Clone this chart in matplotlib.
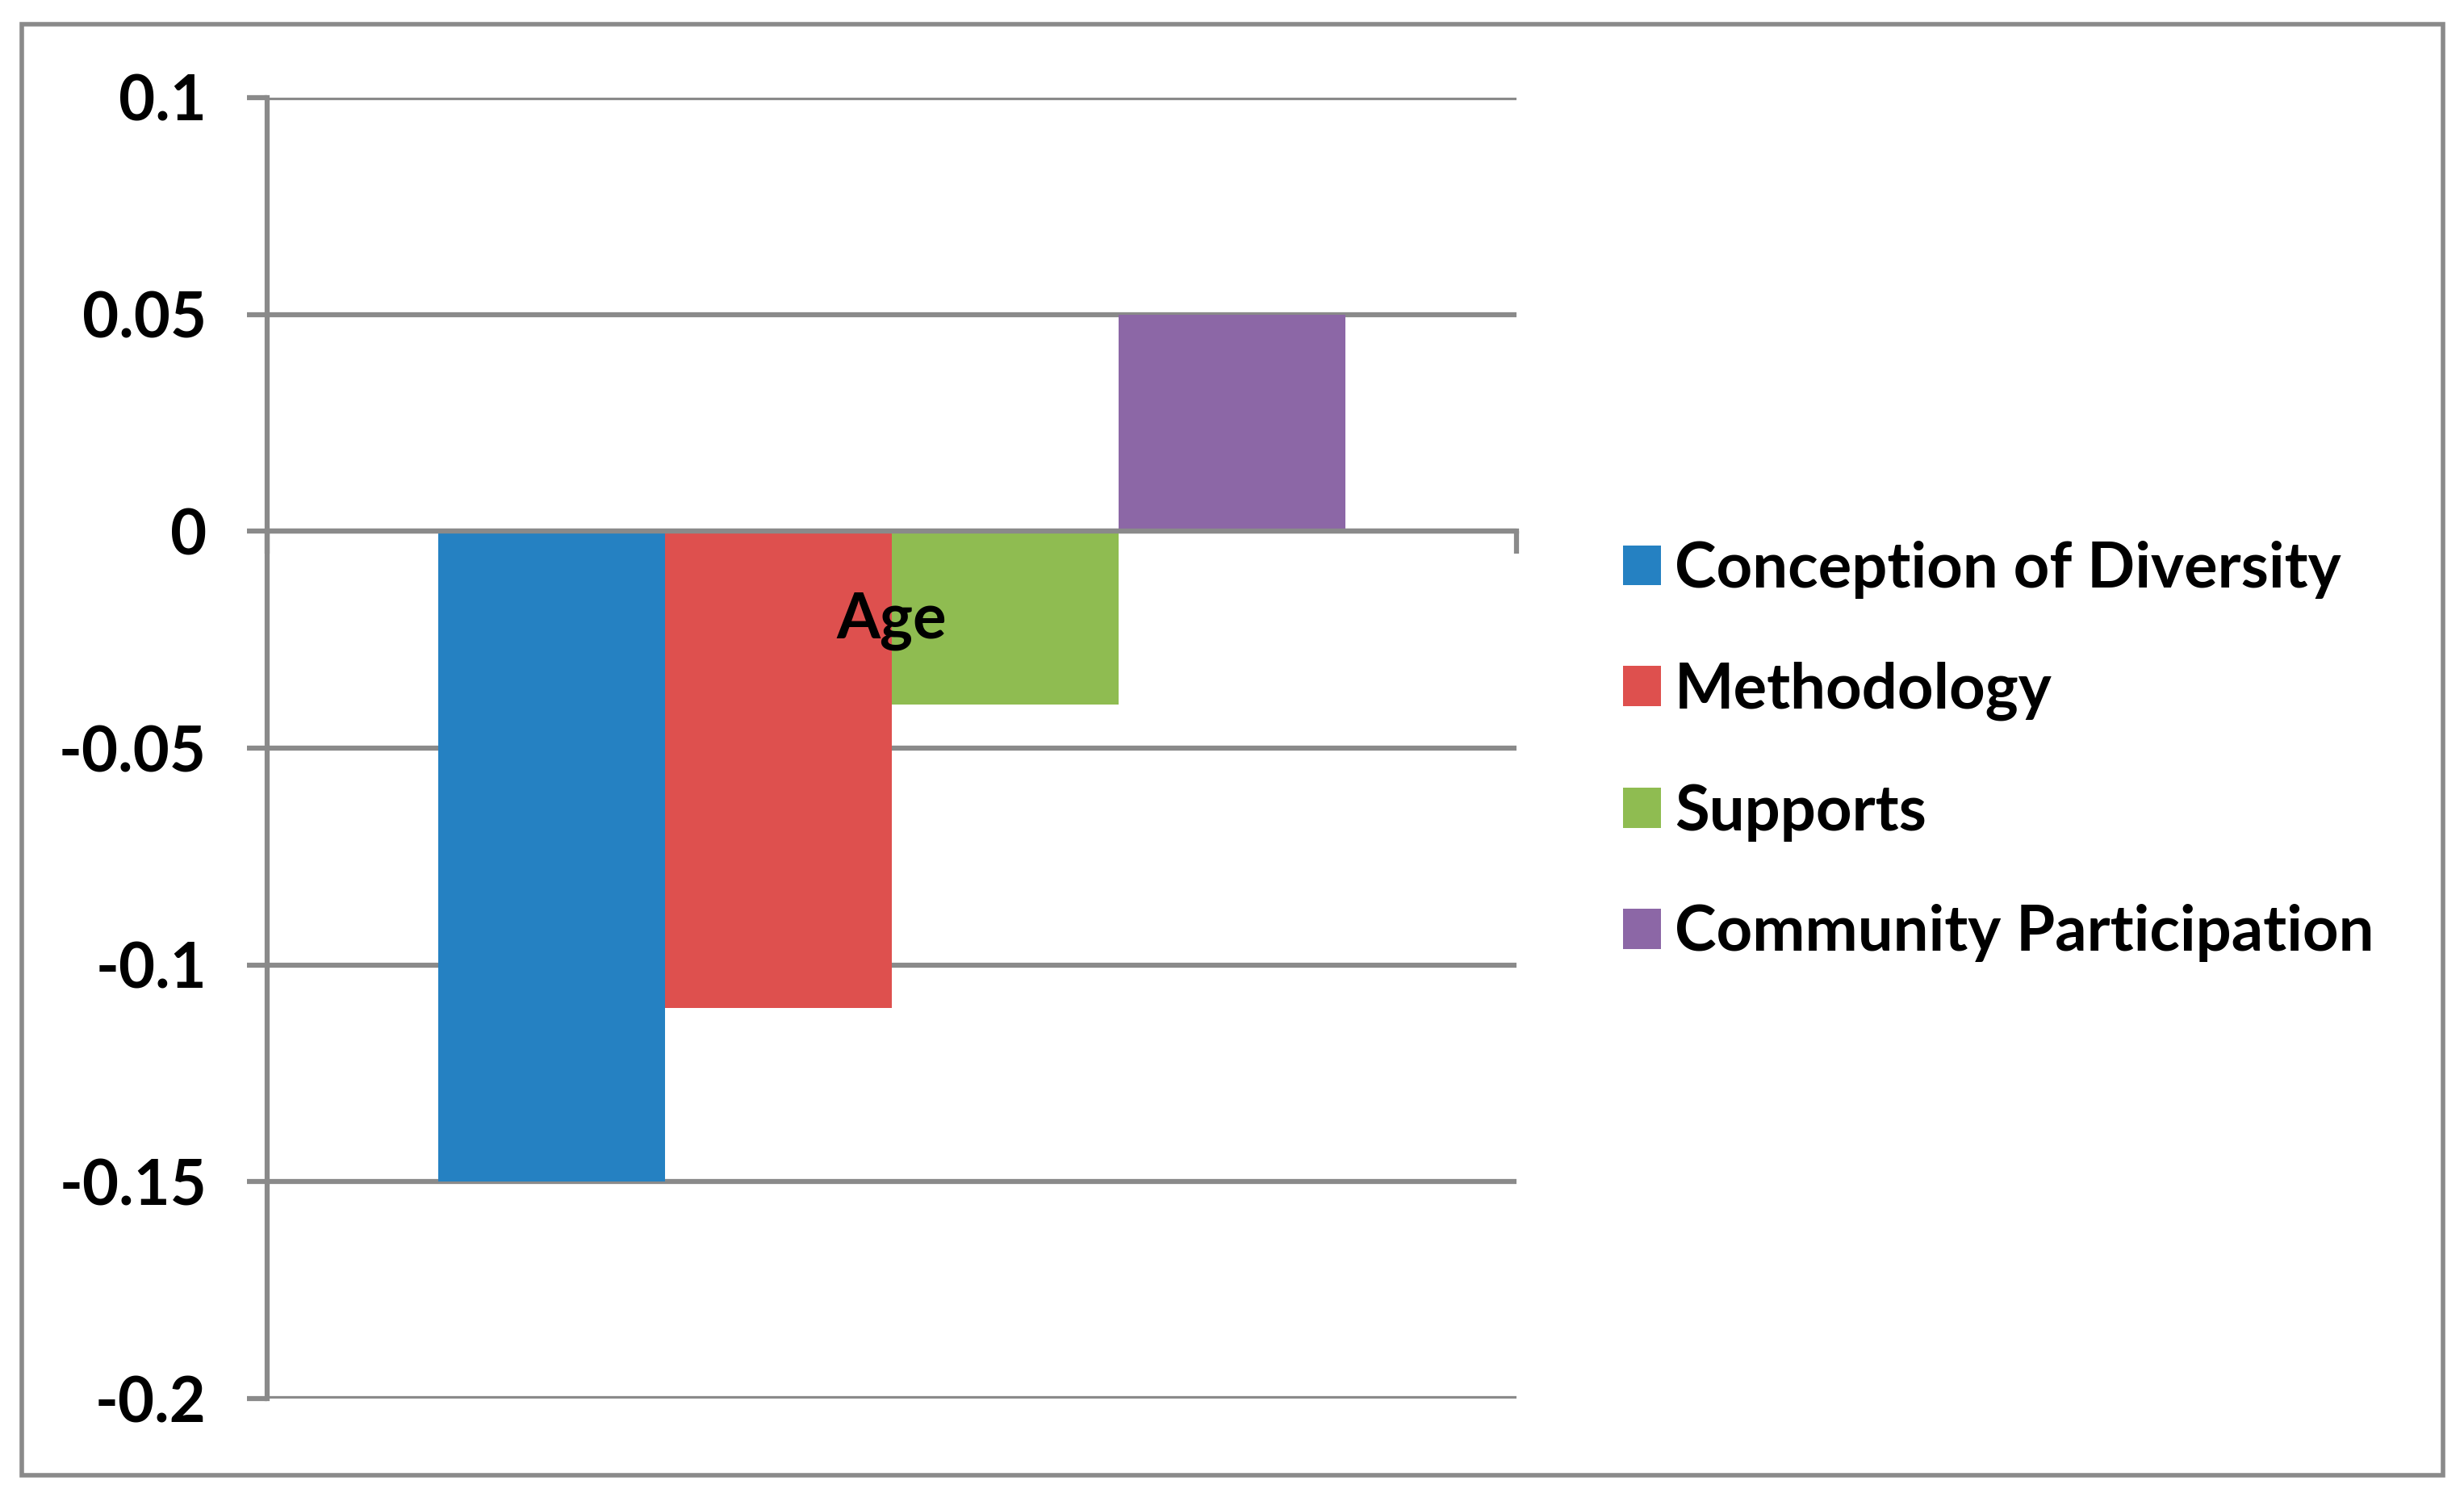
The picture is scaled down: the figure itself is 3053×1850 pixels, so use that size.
import matplotlib.pyplot as plt
from matplotlib.patches import Patch, Rectangle

# Chart data
categories = ['Age']
series_names = ['Conception of Diversity', 'Methodology', 'Supports', 'Community Participation']
series_values = [-0.15, -0.11, -0.04, 0.05]
series_colors = ['#2581c2', '#de504e', '#8fbc51', '#8c67a6']
y_ticks = [0.1, 0.05, 0, -0.05, -0.1, -0.15, -0.2]
y_tick_labels = ['0.1', '0.05', '0', '-0.05', '-0.1', '-0.15', '-0.2']

GRAY = '#8a8a8a'
W, H, DPI = 3053, 1850, 100
FS = 56

plt.rcParams['font.family'] = ['Lato', 'DejaVu Sans']
plt.rcParams['font.weight'] = 'bold'

fig = plt.figure(figsize=(W / DPI, H / DPI), dpi=DPI)
ax = fig.add_axes([331 / W, 1 - 1733 / H, (1879 - 331) / W, (1733 - 121) / H])

# Grouped bars for the single category
bar_w = 0.1815
n = len(series_values)
for i, (name, val, col) in enumerate(zip(series_names, series_values, series_colors)):
    x = 0 + (i - (n - 1) / 2) * bar_w
    ax.bar(x, val, width=bar_w, color=col, label=name, zorder=2)

ax.set_xlim(-0.5, 0.5)
ax.set_ylim(-0.2, 0.1)
ax.set_yticks(y_ticks)
ax.set_yticklabels(y_tick_labels)
ax.set_axisbelow(True)
ax.yaxis.grid(True, color=GRAY, linewidth=4.5)
ax.tick_params(axis='y', length=18, width=4.5, color=GRAY, pad=36, labelsize=FS)

# Category axis sits at zero
ax.spines['top'].set_visible(False)
ax.spines['right'].set_visible(False)
ax.spines['bottom'].set_position(('data', 0))
for s in ('left', 'bottom'):
    ax.spines[s].set_color(GRAY)
    ax.spines[s].set_linewidth(4.5)
ax.set_xticks([0])
ax.set_xticklabels(categories)
ax.set_xticks([-0.5, 0.5], minor=True)
ax.tick_params(axis='x', which='major', length=0, pad=54, labelsize=FS)
ax.tick_params(axis='x', which='minor', length=20, width=4.5, color=GRAY, direction='out')
ax.xaxis.set_zorder(5)

handles = [Patch(facecolor=c, edgecolor='none') for c in series_colors]
fig.legend(handles, series_names, loc='center left', bbox_to_anchor=(2011 / W, 1 - 931 / H),
           frameon=False, fontsize=FS, handlelength=0.6, handleheight=0.6,
           handletextpad=0.22, labelspacing=1.0, borderpad=0, borderaxespad=0)

# Outer chart border
fig.patches.append(Rectangle((27 / W, 1 - 1828 / H), 3000 / W, 1798 / H, transform=fig.transFigure,
                             fill=False, edgecolor=GRAY, linewidth=4))

fig.savefig('out.png', dpi=DPI)
